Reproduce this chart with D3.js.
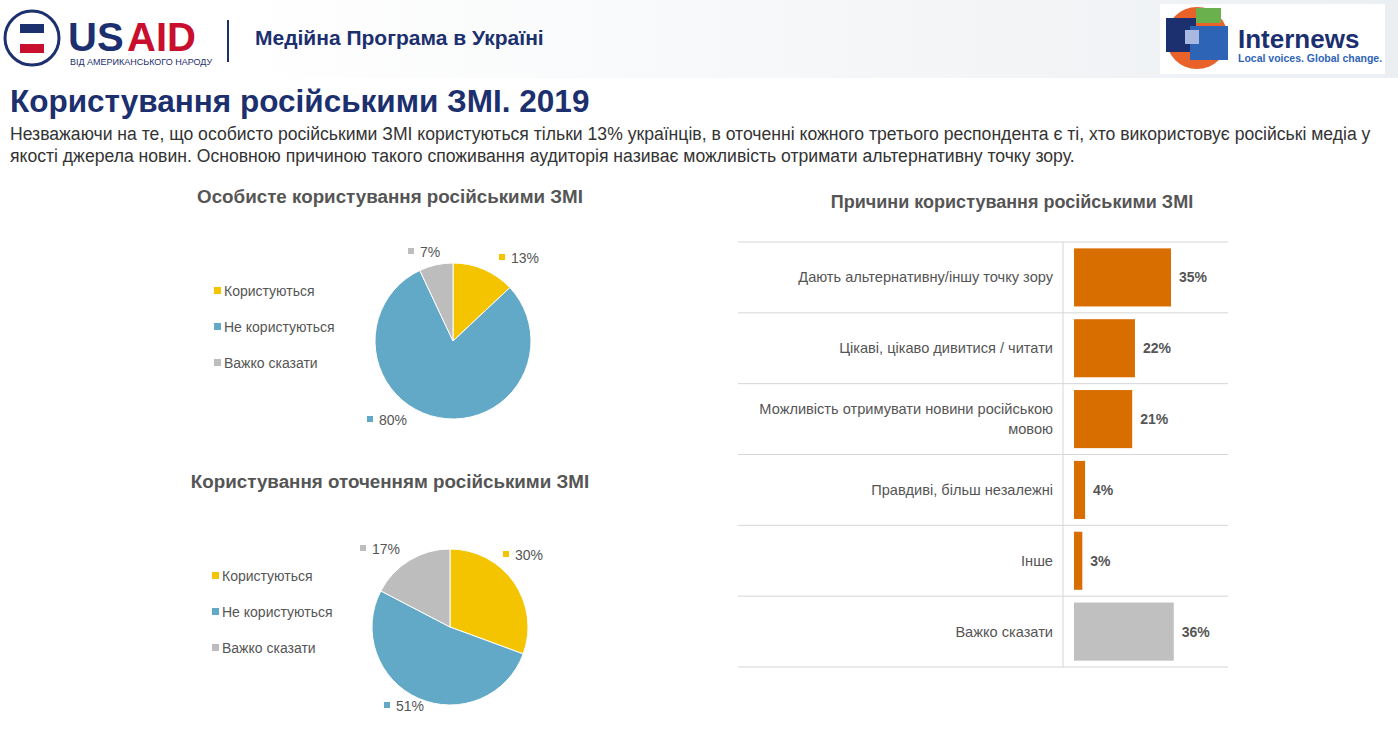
<!DOCTYPE html><html><head><meta charset="utf-8">
<script src="https://cdn.jsdelivr.net/npm/d3@7"></script>
<style>body{margin:0;background:#fff;font-family:Arial,"Liberation Sans",sans-serif}</style></head><body>
<svg id="c" width="1398" height="740"></svg>
<script>
const pieCategories=["Користуються","Не користуються","Важко сказати"];
const personalValues=[13,80,7];
const surroundValues=[30,51,17];
const reasonLabels=[["Дають альтернативну/іншу точку зору"],["Цікаві, цікаво дивитися / читати"],["Можливість отримувати новини російською","мовою"],["Правдиві, більш незалежні"],["Інше"],["Важко сказати"]];
const reasonValues=[35,22,21,4,3,36];
const pieColors=["#F5C400","#62A8C7","#BDBDBD"];
const barColors=["#D86E00","#D86E00","#D86E00","#D86E00","#D86E00","#C0C0C0"];
const svg=d3.select("#c");
const g0=svg.append("defs").append("linearGradient").attr("id","hg");
g0.append("stop").attr("offset","0").attr("stop-color","#ffffff");
g0.append("stop").attr("offset","1").attr("stop-color","#eceff2");
svg.append("rect").attr("x",230).attr("y",0).attr("width",1168).attr("height",78).attr("fill","url(#hg)");
svg.append("rect").attr("x",1160).attr("y",4).attr("width",225).attr("height",70).attr("fill","#fff");
svg.append("circle").attr("cx",32).attr("cy",38).attr("r",27).attr("fill","#fff").attr("stroke","#1c2f6e").attr("stroke-width",3);
svg.append("rect").attr("x",20).attr("y",24).attr("width",24).attr("height",9).attr("fill","#1c2f6e");
svg.append("rect").attr("x",20).attr("y",44).attr("width",24).attr("height",9).attr("fill","#c8102e");
svg.append("text").attr("x",68).attr("y",51).attr("font-size",40).attr("font-weight","bold").attr("fill","#1c2f6e").text("US");
svg.append("text").attr("x",127).attr("y",51).attr("font-size",40).attr("font-weight","bold").attr("fill","#c8102e").text("AID");
svg.append("text").attr("x",70).attr("y",65).attr("font-size",9).attr("fill","#1c2f6e").text("ВІД АМЕРИКАНСЬКОГО НАРОДУ");
svg.append("line").attr("x1",228).attr("x2",228).attr("y1",20).attr("y2",62).attr("stroke","#1c2f6e").attr("stroke-width",2);
svg.append("text").attr("x",255).attr("y",45).attr("font-size",21).attr("font-weight","bold").attr("fill","#1c2f6e").text("Медійна Програма в Україні");
svg.append("circle").attr("cx",1197).attr("cy",38).attr("r",31).attr("fill","#e8622a");
svg.append("rect").attr("x",1166).attr("y",18).attr("width",30).attr("height",34).attr("fill","#1c2f6e");
svg.append("rect").attr("x",1196).attr("y",8).attr("width",25).attr("height",15).attr("fill","#6ab04c");
svg.append("rect").attr("x",1190).attr("y",26).attr("width",38).attr("height",34).attr("fill","#2e64b5");
svg.append("rect").attr("x",1185).attr("y",30).attr("width",14).attr("height",14).attr("fill","#a9b8e0");
svg.append("text").attr("x",1238).attr("y",48).attr("font-size",26).attr("font-weight","bold").attr("fill","#1c2f6e").text("Internews");
svg.append("text").attr("x",1238).attr("y",62).attr("font-size",10.5).attr("font-weight","bold").attr("fill","#2e64b5").text("Local voices. Global change.");
svg.append("text").attr("x",10).attr("y",112).attr("font-size",31.5).attr("font-weight","bold").attr("fill","#1c2f6e").text("Користування російськими ЗМІ. 2019");
svg.append("text").attr("x",10).attr("y",140).attr("font-size",17.6).attr("fill","#333").text("Незважаючи на те, що особисто російськими ЗМІ користуються тільки 13% українців, в оточенні кожного третього респондента є ті, хто використовує російські медіа у");
svg.append("text").attr("x",10).attr("y",162).attr("font-size",17.6).attr("fill","#333").text("якості джерела новин. Основною причиною такого споживання аудиторія називає можливість отримати альтернативну точку зору.");

function pieChart(title,ty,values,cx,cy,legY,legX,labelPos){
  svg.append("text").attr("x",390).attr("y",ty).attr("text-anchor","middle").attr("font-size",18.8).attr("font-weight","bold").attr("fill","#555").text(title);
  const arcs=d3.pie().sort(null)(values);
  const arc=d3.arc().innerRadius(0).outerRadius(78);
  const g=svg.append("g").attr("transform",`translate(${cx},${cy})`);
  g.selectAll("path").data(arcs).join("path").attr("d",arc).attr("fill",(d,i)=>pieColors[i]).attr("stroke","#fff").attr("stroke-width",1);
  pieCategories.forEach((c,i)=>{
    svg.append("rect").attr("x",legX).attr("y",legY+i*36-9).attr("width",7).attr("height",7).attr("fill",pieColors[i]);
    svg.append("text").attr("x",legX+10).attr("y",legY+i*36).attr("font-size",14).attr("fill","#555").text(c);
  });
  values.forEach((v,i)=>{
    const p=labelPos[i];
    svg.append("rect").attr("x",p[0]-12).attr("y",p[1]-9).attr("width",6).attr("height",6).attr("fill",pieColors[i]);
    svg.append("text").attr("x",p[0]).attr("y",p[1]).attr("font-size",14).attr("fill","#555").text(v+"%");
  });
}
pieChart("Особисте користування російськими ЗМІ",203,personalValues,453,341,296,214,[[511,263],[379,425],[420,257]]);
pieChart("Користування оточенням російськими ЗМІ",488,surroundValues,450,627,581,212,[[515,560],[396,711],[372,554]]);

svg.append("text").attr("x",1012).attr("y",208).attr("text-anchor","middle").attr("font-size",18).attr("font-weight","bold").attr("fill","#555").text("Причини користування російськими ЗМІ");
const y=d3.scaleBand().domain(d3.range(reasonValues.length)).range([242,667]).paddingInner(0.18).paddingOuter(0.09);
const x=d3.scaleLinear().domain([0,35]).range([1074,1171]);
for(let i=0;i<=reasonValues.length;i++){
  svg.append("line").attr("x1",738).attr("x2",1228).attr("y1",242+i*(425/6)).attr("y2",242+i*(425/6)).attr("stroke","#d6d6d6");
}
svg.append("line").attr("x1",1063).attr("x2",1063).attr("y1",242).attr("y2",667).attr("stroke","#d6d6d6");
svg.selectAll(".bar").data(reasonValues).join("rect").attr("x",x(0)).attr("y",(d,i)=>y(i)).attr("width",d=>x(d)-x(0)).attr("height",y.bandwidth()).attr("fill",(d,i)=>barColors[i]);
svg.selectAll(".val").data(reasonValues).join("text").attr("x",d=>x(d)+8).attr("y",(d,i)=>y(i)+y.bandwidth()/2+5).attr("font-size",14).attr("font-weight","bold").attr("fill","#555").text(d=>d+"%");
reasonLabels.forEach((lines,i)=>{
  const cy=y(i)+y.bandwidth()/2;
  lines.forEach((l,j)=>{
    svg.append("text").attr("x",1053).attr("y",cy+5+(j-(lines.length-1)/2)*20).attr("text-anchor","end").attr("font-size",14.6).attr("fill","#555").text(l);
  });
});
</script></body></html>
